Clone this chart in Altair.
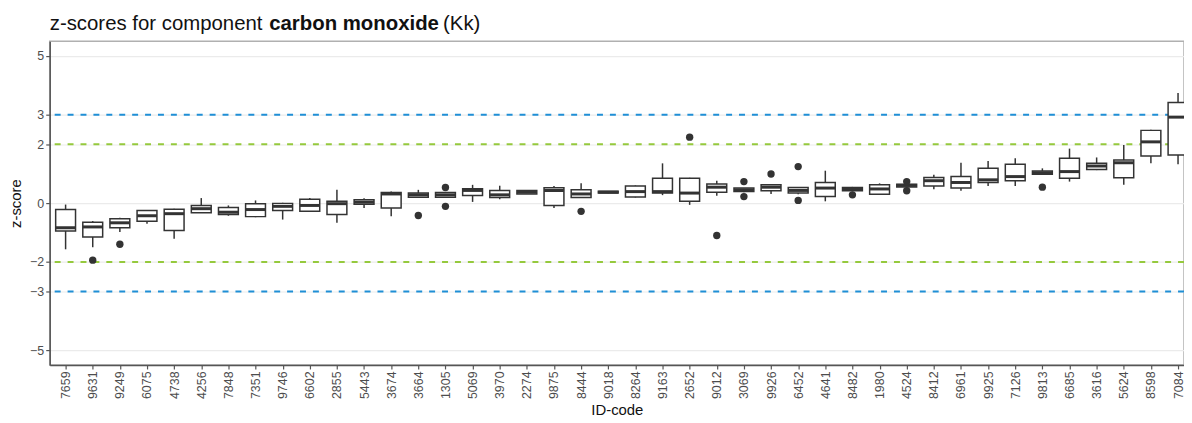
import altair as alt
import pandas as pd

ids = ["7659", "9631", "9249", "6075", "4738", "4256", "7848", "7351", "9746", "6602",
       "2855", "5443", "3674", "3664", "1305", "5069", "3970", "2274", "9875", "8444",
       "9018", "8264", "9163", "2652", "9012", "3069", "9926", "6452", "4641", "8482",
       "1980", "4524", "8412", "6961", "9925", "7126", "9813", "6685", "3616", "5624",
       "8598", "7084"]
lower = [-1.57, -1.50, -0.98, -0.70, -1.21, -0.33, -0.43, -0.48, -0.56, -0.30,
         -0.67, -0.17, -0.45, 0.18, 0.18, 0.04, 0.13, 0.31, -0.17, 0.17,
         0.33, 0.19, 0.27, -0.06, 0.25, 0.37, 0.31, 0.30, 0.06, 0.40,
         0.28, 0.53, 0.47, 0.42, 0.58, 0.58, 0.96, 0.73, 1.12, 0.62,
         1.35, 1.32]
q1 = [-0.95, -1.15, -0.84, -0.62, -0.93, -0.33, -0.39, -0.46, -0.25, -0.28,
      -0.39, -0.04, -0.17, 0.20, 0.20, 0.26, 0.19, 0.31, -0.08, 0.19,
      0.34, 0.21, 0.34, 0.06, 0.37, 0.39, 0.42, 0.34, 0.22, 0.42,
      0.30, 0.55, 0.58, 0.51, 0.70, 0.76, 0.98, 0.84, 1.14, 0.86,
      1.60, 1.63]
median = [-0.84, -0.81, -0.67, -0.43, -0.36, -0.19, -0.31, -0.22, -0.11, -0.08,
          -0.02, 0.03, 0.31, 0.28, 0.28, 0.43, 0.28, 0.37, 0.43, 0.31,
          0.37, 0.39, 0.39, 0.34, 0.54, 0.45, 0.54, 0.43, 0.51, 0.48,
          0.48, 0.60, 0.76, 0.70, 0.79, 0.90, 1.03, 1.07, 1.26, 1.37,
          2.08, 2.92]
q3 = [-0.22, -0.65, -0.53, -0.25, -0.21, -0.08, -0.15, -0.02, -0.01, 0.13,
      0.06, 0.11, 0.36, 0.34, 0.36, 0.49, 0.43, 0.43, 0.52, 0.45,
      0.40, 0.58, 0.84, 0.84, 0.65, 0.51, 0.62, 0.53, 0.70, 0.53,
      0.62, 0.64, 0.87, 0.90, 1.18, 1.32, 1.09, 1.52, 1.35, 1.46,
      2.47, 3.42]
upper = [-0.05, -0.61, -0.50, -0.25, -0.19, 0.17, -0.08, 0.09, 0.01, 0.17,
         0.45, 0.16, 0.39, 0.45, 0.36, 0.62, 0.59, 0.43, 0.58, 0.67,
         0.40, 0.60, 1.35, 0.86, 0.76, 0.51, 0.64, 0.53, 1.10, 0.55,
         0.67, 0.64, 0.96, 1.37, 1.43, 1.52, 1.18, 1.85, 1.55, 1.97,
         2.49, 3.74]

out_id = ["9631", "9249", "3664", "1305", "1305", "8444", "2652", "9012", "3069",
          "3069", "9926", "6452", "6452", "8482", "4524", "4524", "9813"]
out_val = [-1.94, -1.40, -0.42, 0.53, -0.11, -0.28, 2.24, -1.10, 0.73,
           0.22, 0.99, 1.24, 0.09, 0.28, 0.73, 0.42, 0.54]

limit_vals = [3, -3, 2, -2]
limit_kind = ["action", "action", "warning", "warning"]
limit_colors = ["#1f8fd6", "#95c93d"]

y_ticks = [-5, -3, -2, 0, 2, 3, 5]

FONT = "Liberation Sans"
DARK = "#333333"

box_df = pd.DataFrame({"id": ids, "lower": lower, "q1": q1, "median": median,
                       "q3": q3, "upper": upper})
out_df = pd.DataFrame({"id": out_id, "z": out_val})
lim_df = pd.DataFrame({"z": limit_vals, "kind": limit_kind})

xscale = alt.Scale(type="point", domain=ids, padding=0.4026, align=0.727, round=False)
x_enc = alt.X("id:N", sort=ids, scale=xscale,
              axis=alt.Axis(title="ID-code", labelAngle=-90, labelAlign="right",
                            labelBaseline="middle"))
yscale = alt.Scale(domain=[-5.5, 5.5], nice=False, zero=False)
y_axis = alt.Axis(title="z-score", values=y_ticks)

limits = alt.Chart(lim_df).mark_rule(strokeDash=[6, 7], strokeWidth=2).encode(
    y=alt.Y("z:Q", scale=yscale, axis=y_axis),
    color=alt.Color("kind:N", scale=alt.Scale(domain=["action", "warning"], range=limit_colors),
                    legend=None),
)

whiskers = alt.Chart(box_df).mark_rule(color=DARK, strokeWidth=1.5).encode(
    x=x_enc, y=alt.Y("lower:Q", scale=yscale, axis=y_axis), y2="upper:Q")

boxes = alt.Chart(box_df).mark_bar(size=20, fill="white", stroke=DARK, strokeWidth=1.5).encode(
    x=x_enc, y=alt.Y("q1:Q", scale=yscale, axis=y_axis), y2="q3:Q")

medians = alt.Chart(box_df).mark_tick(color=DARK, thickness=3, size=20, opacity=1).encode(
    x=x_enc, y=alt.Y("median:Q", scale=yscale, axis=y_axis))

outliers = alt.Chart(out_df).mark_circle(size=55, color=DARK, opacity=1).encode(
    x=x_enc, y=alt.Y("z:Q", scale=yscale, axis=y_axis))

TS = 20.5
t1 = alt.Chart(pd.DataFrame({"t": ["z-scores for component"]})).mark_text(
    align="left", baseline="alphabetic", fontSize=TS, font=FONT, color="#111111").encode(
    text="t:N", x=alt.value(0), y=alt.value(-11))
t2 = alt.Chart(pd.DataFrame({"t": ["carbon monoxide"]})).mark_text(
    align="left", baseline="alphabetic", fontSize=TS, font=FONT, fontWeight="bold",
    color="#111111").encode(text="t:N", x=alt.value(221), y=alt.value(-11))
t3 = alt.Chart(pd.DataFrame({"t": ["(Kk)"]})).mark_text(
    align="left", baseline="alphabetic", fontSize=TS, font=FONT, color="#111111").encode(
    text="t:N", x=alt.value(396), y=alt.value(-11))

chart = alt.layer(limits, whiskers, boxes, medians, outliers, t1, t2, t3).properties(
    width=1142, height=326,
    autosize=alt.AutoSizeParams(type="none"),
    padding={"left": 42, "top": 32, "right": 0, "bottom": 57},
).configure_view(
    stroke="#b0b0b0", strokeWidth=1.5
).configure_axis(
    labelFont=FONT, titleFont=FONT, labelFontSize=12.5, labelColor="#4d4d4d",
    titleFontSize=15, titleFontWeight="normal", titleColor="#111111",
    gridColor="#ebebeb", gridWidth=1.2, domainColor="#555555", domainWidth=1.5,
    tickColor="#555555", tickSize=4, tickWidth=1.2, labelPadding=2,
).configure_axisX(
    titlePadding=4
).configure_axisY(
    titlePadding=6
)

chart.save("out.html", embed_options={"renderer": "svg", "actions": False})
